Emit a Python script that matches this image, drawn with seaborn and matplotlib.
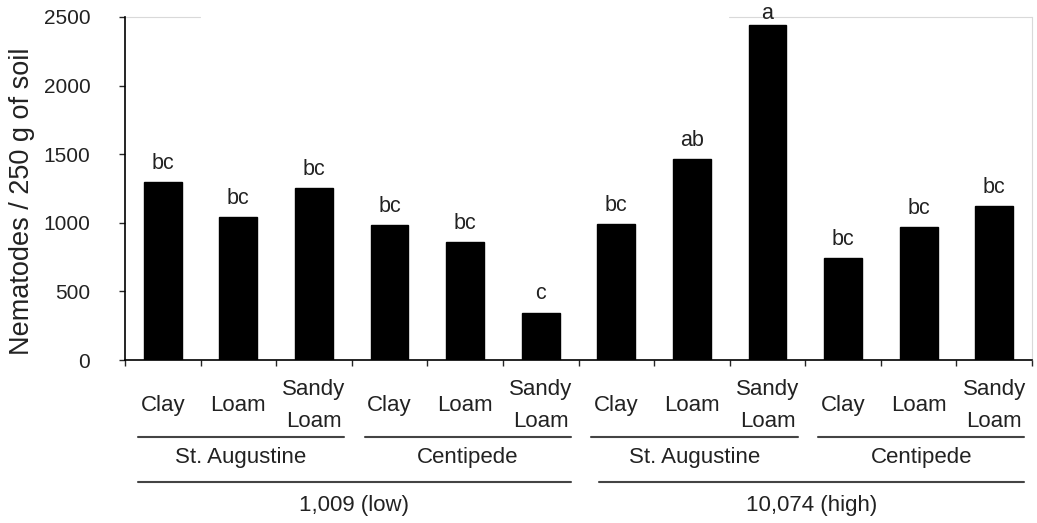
import numpy as np
import pandas as pd
import matplotlib
matplotlib.use("Agg")
import matplotlib.pyplot as plt
import matplotlib.transforms as mtransforms
import seaborn as sns

# data
soils = ["Clay", "Loam", "Sandy\nLoam"] * 4
grasses = ["St. Augustine", "Centipede"]
levels = ["1,009 (low)", "10,074 (high)"]
nematodes = [1295, 1040, 1252, 985, 858, 345, 992, 1465, 2440, 742, 968, 1120]
letters = ["bc", "bc", "bc", "bc", "bc", "c", "bc", "ab", "a", "bc", "bc", "bc"]

df = pd.DataFrame({"key": [f"b{i}" for i in range(len(nematodes))],
                   "soil": soils, "value": nematodes})

sns.set_style("white")
plt.rcParams["font.family"] = ["Liberation Sans", "DejaVu Sans"]

fig = plt.figure(figsize=(10.37, 5.23), dpi=100)
ax = fig.add_axes([125 / 1037, 1 - 360 / 523, 907 / 1037, 343 / 523])

sns.barplot(data=df, x="key", y="value", color="black", width=0.5,
            saturation=1, ax=ax, edgecolor="black")

ax.set_xlim(-0.5, len(nematodes) - 0.5)
ax.set_ylim(0, 2500)
ax.set_yticks(np.arange(0, 2501, 500))
ax.tick_params(axis="y", labelsize=15, length=4, width=1, direction="out",
               left=True, pad=21, labelcolor="#222222")

# boundaries as major ticks, soil names as minor tick labels
ax.set_xticks(np.arange(-0.5, len(nematodes), 1.0))
ax.set_xticklabels([])
ax.set_xticks(np.arange(len(nematodes)), minor=True)
ax.set_xticklabels(soils, minor=True, fontsize=16, va="center", linespacing=1.7,
                   color="#222222")
ax.tick_params(axis="x", which="major", length=4, width=1, direction="out", bottom=True)
ax.tick_params(axis="x", which="minor", length=0, pad=33)

ax.set_xlabel("")
ax.set_ylabel("Nematodes / 250 g of soil", fontsize=19.5, color="#222222")
ax.yaxis.set_label_coords(-0.099, 0.462)

for s in ["left", "bottom"]:
    ax.spines[s].set_color("black")
    ax.spines[s].set_linewidth(1.2)
ax.spines["top"].set_visible(False)
ax.spines["right"].set_color("#d9d9d9")
ax.spines["right"].set_linewidth(0.8)
ax.axhline(2500, xmin=0, xmax=0.083, color="#d9d9d9", lw=0.8, clip_on=False)
ax.axhline(2500, xmin=0.666, xmax=1, color="#d9d9d9", lw=0.8, clip_on=False)

# letters above bars
for i, (v, t) in enumerate(zip(nematodes, letters)):
    off = 1 if v > 2400 else 6
    ax.annotate(t, (i, v), xytext=(0, off), textcoords="offset points",
                ha="center", va="bottom", fontsize=15.5, color="#222222")

# grouping lines and labels under the axis
trans = mtransforms.blended_transform_factory(ax.transData, ax.transAxes)
for g in range(4):
    x0, x1 = g * 3 - 0.33, g * 3 + 2.4
    ax.plot([x0, x1], [-0.2245, -0.2245], transform=trans, color="#444444",
            lw=1.5, clip_on=False)
    ax.text((x0 + x1) / 2, -0.283, grasses[g % 2], transform=trans,
            ha="center", va="center", fontsize=16, color="#222222")
for k in range(2):
    x0, x1 = k * 6 - 0.33 + (0.1 if k else 0), k * 6 + 5.4
    ax.plot([x0, x1], [-0.356, -0.356], transform=trans, color="#444444",
            lw=1.5, clip_on=False)
    ax.text((x0 + x1) / 2, -0.423, levels[k], transform=trans,
            ha="center", va="center", fontsize=16, color="#222222")

fig.savefig("out.png", dpi=100)
